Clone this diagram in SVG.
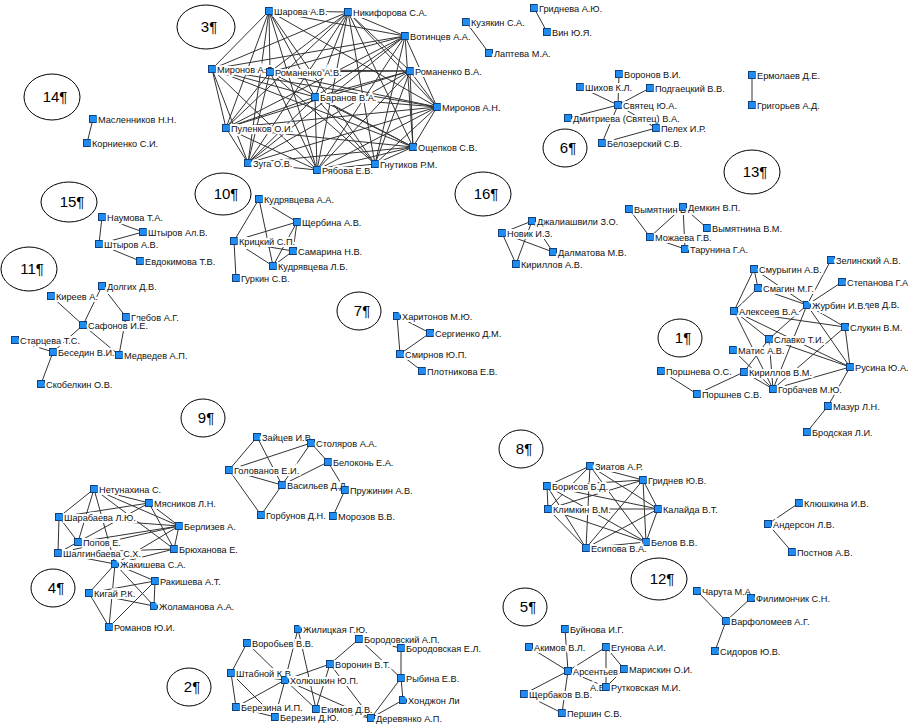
<svg xmlns="http://www.w3.org/2000/svg" width="908" height="727" viewBox="0 0 908 727">
<style>
.e{stroke:#333;stroke-width:1;fill:none}
.n rect{fill:#1e8cf0;stroke:#123f7a;stroke-width:1}
.n text,.h{font-family:"Liberation Sans",Arial,sans-serif;font-size:9.2px;fill:#111;paint-order:stroke;stroke:#fff;stroke-width:4px;stroke-linejoin:miter}
.c ellipse{fill:#fff;stroke:#000;stroke-width:1}
.c text{font-family:"Liberation Sans",Arial,sans-serif;font-size:15px;fill:#000;text-anchor:middle}
</style>
<rect width="908" height="727" fill="#fff"/>
<g id="clusters" class="c">
<g id="c3"><ellipse cx="206" cy="27" rx="29" ry="22"/><text x="209" y="32">3¶</text></g>
<g id="c14"><ellipse cx="52" cy="97" rx="28" ry="23"/><text x="55" y="102">14¶</text></g>
<g id="c6"><ellipse cx="565" cy="148" rx="22" ry="19"/><text x="568" y="153">6¶</text></g>
<g id="c13"><ellipse cx="752" cy="172" rx="28" ry="22"/><text x="755" y="177">13¶</text></g>
<g id="c15"><ellipse cx="69" cy="202" rx="28" ry="20"/><text x="72" y="207">15¶</text></g>
<g id="c10"><ellipse cx="223" cy="194" rx="28" ry="21"/><text x="226" y="199">10¶</text></g>
<g id="c11"><ellipse cx="29" cy="269" rx="28" ry="22"/><text x="32" y="274">11¶</text></g>
<g id="c16"><ellipse cx="483" cy="194" rx="28" ry="22"/><text x="486" y="199">16¶</text></g>
<g id="c7"><ellipse cx="359" cy="311" rx="22" ry="19"/><text x="362" y="316">7¶</text></g>
<g id="c1"><ellipse cx="680" cy="338" rx="22" ry="19"/><text x="683" y="343">1¶</text></g>
<g id="c9"><ellipse cx="203" cy="418" rx="22" ry="19"/><text x="206" y="423">9¶</text></g>
<g id="c8"><ellipse cx="521" cy="449" rx="22" ry="19"/><text x="524" y="454">8¶</text></g>
<g id="c12"><ellipse cx="659" cy="579" rx="28" ry="21"/><text x="662" y="584">12¶</text></g>
<g id="c4"><ellipse cx="53" cy="588" rx="22" ry="19"/><text x="56" y="593">4¶</text></g>
<g id="c5"><ellipse cx="525" cy="607" rx="22" ry="19"/><text x="528" y="612">5¶</text></g>
<g id="c2"><ellipse cx="189" cy="687" rx="22" ry="19"/><text x="192" y="692">2¶</text></g>
</g>
<g id="connectors" class="e">
<path d="M269 11L348 12M269 11L405 36M269 11L212 69M269 11L270 72M269 11L315 97M269 11L437 107M269 11L226 128M269 11L248 163M269 11L317 170M269 11L375 164
M348 12L405 36M348 12L212 69M348 12L270 72M348 12L410 71M348 12L315 97M348 12L437 107M348 12L226 128M348 12L413 147M348 12L248 163M348 12L317 170M348 12L375 164
M405 36L212 69M405 36L270 72M405 36L315 97M405 36L437 107M405 36L226 128M405 36L413 147M405 36L248 163M405 36L317 170M405 36L375 164
M212 69L410 71M212 69L315 97M212 69L437 107M212 69L226 128M212 69L248 163M212 69L317 170M212 69L413 147
M270 72L410 71M270 72L437 107M270 72L226 128M270 72L413 147M270 72L248 163M270 72L317 170M270 72L375 164
M410 71L315 97M410 71L437 107M410 71L226 128M410 71L413 147M410 71L248 163M410 71L317 170M410 71L375 164
M315 97L437 107M315 97L226 128M315 97L413 147M315 97L248 163M315 97L317 170M315 97L375 164
M437 107L226 128M437 107L413 147M437 107L248 163M437 107L317 170M437 107L375 164
M226 128L413 147M226 128L248 163M226 128L317 170M413 147L248 163M413 147L317 170M413 147L375 164M248 163L317 170M317 170L375 164"/>
<path d="M93 119L87 143M466 22L489 53M534 8L547 32M752 75L752 105
M618 105L619 74M618 105L580 87M618 105L650 88M618 105L568 118M618 105L656 128M618 105L602 143M656 128L602 143"/>
<path d="M102 217L99 244M102 217L143 232M99 244L143 232M99 244L140 261
M259 199L297 222M259 199L234 241M259 199L273 266M234 241L297 222M234 241L293 251M234 241L273 266M234 241L236 278M297 222L293 251M297 222L273 266M293 251L273 266
M51 296L83 325M102 286L83 325M102 286L126 317M126 317L119 355M83 325L53 352M83 325L119 355M15 340L53 352M53 352L41 384
M502 233L516 264M502 233L553 252M502 233L532 221M516 264L532 221M532 221L553 252
M397 316L430 333M397 316L400 354M400 354L430 333M400 354L422 371
M629 209L650 237M683 207L650 237M683 207L685 249M683 207L707 228M650 237L685 249"/>
<path d="M831 260L807 305M842 282L807 305M754 269L758 288M754 269L734 311M754 269L807 305M758 288L807 305M758 288L734 311M734 311L845 327M734 311L769 339M734 311L773 389M734 311L850 367M807 305L845 327M807 305L850 367M807 305L769 339M807 305L773 389M845 327L850 367M773 389L845 327M769 339L850 367M769 339L773 389M769 339L744 372M744 372L773 389M744 372L697 394M661 371L697 394M773 389L850 367M850 367L828 406M828 406L807 432M733 350L773 389"/>
<path d="M257 437L229 470M257 437L282 485M229 470L311 443M229 470L282 485M229 470L261 515M311 443L328 462M311 443L282 485M328 462L282 485M328 462L345 490M282 485L261 515M345 490L333 516"/>
<path d="M94 489L59 517M94 489L78 542M94 489L149 503M94 489L179 526M94 489L174 549M94 489L115 564M59 517L78 542M59 517L58 553M59 517L179 526M59 517L149 503M149 503L179 526M149 503L174 549M149 503L58 553M179 526L174 549M179 526L78 542M179 526L58 553M179 526L115 564M174 549L58 553M174 549L115 564M58 553L115 564M115 564L89 593M115 564L155 581M115 564L154 606M115 564L109 627M89 593L154 606M89 593L109 627M155 581L154 606M155 581L109 627M155 581L89 593"/>
<path d="M590 466L643 480M590 466L547 486M590 466L548 509M590 466L658 509M590 466L646 542M590 466L586 548M643 480L547 486M643 480L548 509M643 480L658 509M643 480L646 542M643 480L586 548M547 486L548 509M547 486L658 509M547 486L646 542M547 486L586 548M548 509L658 509M548 509L646 542M548 509L586 548M658 509L646 542M658 509L586 548M646 542L586 548"/>
<path d="M768 524L799 503M768 524L792 552M697 591L726 621M751 598L726 621M726 621L715 651
M565 629L568 671M529 647L568 671M568 671L524 694M568 671L562 713M568 671L606 687M606 647L568 671M606 647L624 669M606 647L606 687M624 669L606 687M524 694L562 713"/>
<path d="M247 643L231 673M247 643L285 680M231 673L285 680M231 673L236 707M231 673L275 717M298 629L285 680M298 629L316 709M330 664L285 680M330 664L316 709M330 664L359 639M330 664L371 718M359 639L401 648M359 639L401 678M401 648L401 678M401 678L403 700M401 678L371 718M403 700L371 718M285 680L236 707M285 680L275 717M285 680L316 709M285 680L371 718M236 707L275 717M316 709L371 718"/>
</g>
<g id="nodes" class="n">
<g id="n-sharova"><rect x="265.5" y="7.5" width="7" height="7"/><text x="274" y="14.5">Шарова А.В.</text></g>
<g id="n-nikiforova"><rect x="344.5" y="8.5" width="7" height="7"/><text x="353" y="15.5">Никифорова С.А.</text></g>
<g id="n-votintsev"><rect x="401.5" y="32.5" width="7" height="7"/><text x="410" y="39.5">Вотинцев А.А.</text></g>
<g id="n-mironov-al"><rect x="208.5" y="65.5" width="7" height="7"/><text x="217" y="72.5">Миронов А.Л.</text></g>
<g id="n-romanenko-av"><rect x="266.5" y="68.5" width="7" height="7"/><text x="275" y="75.5">Романенко А.В.</text></g>
<g id="n-romanenko-va"><rect x="406.5" y="67.5" width="7" height="7"/><text x="415" y="74.5">Романенко В.А.</text></g>
<g id="n-baranov"><rect x="311.5" y="93.5" width="7" height="7"/><text x="320" y="100.5">Баранов В.А.</text></g>
<g id="n-mironov-an"><rect x="433.5" y="103.5" width="7" height="7"/><text x="442" y="110.5">Миронов А.Н.</text></g>
<g id="n-pulenkov"><rect x="222.5" y="124.5" width="7" height="7"/><text x="231" y="131.5">Пуленков О.И.</text></g>
<g id="n-oshchepkov"><rect x="409.5" y="143.5" width="7" height="7"/><text x="418" y="150.5">Ощепков С.В.</text></g>
<g id="n-zuga"><rect x="244.5" y="159.5" width="7" height="7"/><text x="253" y="166.5">Зуга О.В.</text></g>
<g id="n-ryabova"><rect x="313.5" y="166.5" width="7" height="7"/><text x="322" y="173.5">Рябова Е.В.</text></g>
<g id="n-gnutikov"><rect x="371.5" y="160.5" width="7" height="7"/><text x="380" y="167.5">Гнутиков Р.М.</text></g>
<g id="n-maslennikov"><rect x="89.5" y="115.5" width="7" height="7"/><text x="98" y="122.5">Масленников Н.Н.</text></g>
<g id="n-kornienko"><rect x="83.5" y="139.5" width="7" height="7"/><text x="92" y="146.5">Корниенко С.И.</text></g>
<g id="n-kuzyakin"><rect x="462.5" y="18.5" width="7" height="7"/><text x="471" y="25.5">Кузякин С.А.</text></g>
<g id="n-lapteva"><rect x="485.5" y="49.5" width="7" height="7"/><text x="494" y="56.5">Лаптева М.А.</text></g>
<g id="n-gridneva"><rect x="530.5" y="4.5" width="7" height="7"/><text x="539" y="11.5">Гриднева А.Ю.</text></g>
<g id="n-vin"><rect x="543.5" y="28.5" width="7" height="7"/><text x="552" y="35.5">Вин Ю.Я.</text></g>
<g id="n-voronov"><rect x="615.5" y="70.5" width="7" height="7"/><text x="624" y="77.5">Воронов В.И.</text></g>
<g id="n-shikhov"><rect x="576.5" y="83.5" width="7" height="7"/><text x="585" y="90.5">Шихов К.Л.</text></g>
<g id="n-podgaetsky"><rect x="646.5" y="84.5" width="7" height="7"/><text x="655" y="91.5">Подгаецкий В.В.</text></g>
<g id="n-svyatets"><rect x="614.5" y="101.5" width="7" height="7"/><text x="623" y="108.5">Святец Ю.А.</text></g>
<g id="n-dmitrieva"><rect x="564.5" y="114.5" width="7" height="7"/><text x="573" y="121.5">Дмитриева (Святец) В.А.</text></g>
<g id="n-pelekh"><rect x="652.5" y="124.5" width="7" height="7"/><text x="661" y="131.5">Пелех И.Р.</text></g>
<g id="n-belozersky"><rect x="598.5" y="139.5" width="7" height="7"/><text x="607" y="146.5">Белозерский С.В.</text></g>
<g id="n-ermolaev"><rect x="748.5" y="71.5" width="7" height="7"/><text x="757" y="78.5">Ермолаев Д.Е.</text></g>
<g id="n-grigoriev"><rect x="748.5" y="101.5" width="7" height="7"/><text x="757" y="108.5">Григорьев А.Д.</text></g>
<g id="n-naumova"><rect x="98.5" y="213.5" width="7" height="7"/><text x="107" y="220.5">Наумова Т.А.</text></g>
<g id="n-shtyrov-al"><rect x="139.5" y="228.5" width="7" height="7"/><text x="148" y="235.5">Штыров Ал.В.</text></g>
<g id="n-shtyrov-av"><rect x="95.5" y="240.5" width="7" height="7"/><text x="104" y="247.5">Штыров А.В.</text></g>
<g id="n-evdokimova"><rect x="136.5" y="257.5" width="7" height="7"/><text x="145" y="264.5">Евдокимова Т.В.</text></g>
<g id="n-kudryavtseva-aa"><rect x="255.5" y="195.5" width="7" height="7"/><text x="264" y="202.5">Кудрявцева А.А.</text></g>
<g id="n-shcherbina"><rect x="293.5" y="218.5" width="7" height="7"/><text x="302" y="225.5">Щербина А.В.</text></g>
<g id="n-kritsky"><rect x="230.5" y="237.5" width="7" height="7"/><text x="239" y="244.5">Крицкий С.П.</text></g>
<g id="n-samarina"><rect x="289.5" y="247.5" width="7" height="7"/><text x="298" y="254.5">Самарина Н.В.</text></g>
<g id="n-kudryavtseva-lb"><rect x="269.5" y="262.5" width="7" height="7"/><text x="278" y="269.5">Кудрявцева Л.Б.</text></g>
<g id="n-gurkin"><rect x="232.5" y="274.5" width="7" height="7"/><text x="241" y="281.5">Гуркин С.В.</text></g>
<g id="n-dzhaliashvili"><rect x="528.5" y="217.5" width="7" height="7"/><text x="537" y="224.5">Джалиашвили З.О.</text></g>
<g id="n-novik"><rect x="498.5" y="229.5" width="7" height="7"/><text x="507" y="236.5">Новик И.З.</text></g>
<g id="n-dalmatova"><rect x="549.5" y="248.5" width="7" height="7"/><text x="558" y="255.5">Далматова М.В.</text></g>
<g id="n-kirillov-av"><rect x="512.5" y="260.5" width="7" height="7"/><text x="521" y="267.5">Кириллов А.В.</text></g>
<g id="n-vymyatnin"><rect x="625.5" y="205.5" width="7" height="7"/><text x="634" y="212.5">Вымятнин В.</text></g>
<g id="n-demkin"><rect x="679.5" y="203.5" width="7" height="7"/><text x="688" y="210.5">Демкин В.П.</text></g>
<g id="n-vymyatnina"><rect x="703.5" y="224.5" width="7" height="7"/><text x="712" y="231.5">Вымятнина В.М.</text></g>
<g id="n-mozhaeva"><rect x="646.5" y="233.5" width="7" height="7"/><text x="655" y="240.5">Можаева Г.В.</text></g>
<g id="n-tarunina"><rect x="681.5" y="245.5" width="7" height="7"/><text x="690" y="252.5">Тарунина Г.А.</text></g>
<g id="n-dolgikh"><rect x="98.5" y="282.5" width="7" height="7"/><text x="107" y="289.5">Долгих Д.В.</text></g>
<g id="n-kireev"><rect x="47.5" y="292.5" width="7" height="7"/><text x="56" y="299.5">Киреев А.</text></g>
<g id="n-glebov"><rect x="122.5" y="313.5" width="7" height="7"/><text x="131" y="320.5">Глебов А.Г.</text></g>
<g id="n-safonov"><rect x="79.5" y="321.5" width="7" height="7"/><text x="88" y="328.5">Сафонов И.Е.</text></g>
<g id="n-startseva"><rect x="11.5" y="336.5" width="7" height="7"/><text x="20" y="343.5">Старцева Т.С.</text></g>
<g id="n-besedin"><rect x="49.5" y="348.5" width="7" height="7"/><text x="58" y="355.5">Беседин В.И.</text></g>
<g id="n-medvedev"><rect x="115.5" y="351.5" width="7" height="7"/><text x="124" y="358.5">Медведев А.П.</text></g>
<g id="n-skobelkin"><rect x="37.5" y="380.5" width="7" height="7"/><text x="46" y="387.5">Скобелкин О.В.</text></g>
<g id="n-kharitonov"><rect x="393.5" y="312.5" width="7" height="7"/><text x="402" y="319.5">Харитонов М.Ю.</text></g>
<g id="n-sergienko"><rect x="426.5" y="329.5" width="7" height="7"/><text x="435" y="336.5">Сергиенко Д.М.</text></g>
<g id="n-smirnov"><rect x="396.5" y="350.5" width="7" height="7"/><text x="405" y="357.5">Смирнов Ю.П.</text></g>
<g id="n-plotnikova"><rect x="418.5" y="367.5" width="7" height="7"/><text x="427" y="374.5">Плотникова Е.В.</text></g>
<g id="n-zelinsky"><rect x="827.5" y="256.5" width="7" height="7"/><text x="836" y="263.5">Зелинский А.В.</text></g>
<g id="n-smurygin"><rect x="750.5" y="265.5" width="7" height="7"/><text x="759" y="272.5">Смурыгин А.В.</text></g>
<g id="n-stepanova"><rect x="838.5" y="278.5" width="7" height="7"/><text x="847" y="285.5">Степанова Г.А</text></g>
<g id="n-smagin"><rect x="754.5" y="284.5" width="7" height="7"/><text x="763" y="291.5">Смагин М.Г.</text></g>
<text class="h" x="864" y="308">дев Д.В.</text>
<g id="n-zhurbin"><rect x="803.5" y="301.5" width="7" height="7"/><text x="812" y="308.5">Журбин И.В.</text></g>
<g id="n-alekseev"><rect x="730.5" y="307.5" width="7" height="7"/><text x="739" y="314.5">Алексеев В.А.</text></g>
<g id="n-slukin"><rect x="841.5" y="323.5" width="7" height="7"/><text x="850" y="330.5">Слукин В.М.</text></g>
<g id="n-slavko"><rect x="765.5" y="335.5" width="7" height="7"/><text x="774" y="342.5">Славко Т.И.</text></g>
<g id="n-matis"><rect x="729.5" y="346.5" width="7" height="7"/><text x="738" y="353.5">Матис А.В.</text></g>
<g id="n-rusina"><rect x="846.5" y="363.5" width="7" height="7"/><text x="855" y="370.5">Русина Ю.А.</text></g>
<g id="n-porshneva"><rect x="657.5" y="367.5" width="7" height="7"/><text x="666" y="374.5">Поршнева О.С.</text></g>
<g id="n-kirillov-vm"><rect x="740.5" y="368.5" width="7" height="7"/><text x="749" y="375.5">Кириллов В.М.</text></g>
<g id="n-gorbachev"><rect x="769.5" y="385.5" width="7" height="7"/><text x="778" y="392.5">Горбачев М.Ю.</text></g>
<g id="n-porshnev"><rect x="693.5" y="390.5" width="7" height="7"/><text x="702" y="397.5">Поршнев С.В.</text></g>
<g id="n-mazur"><rect x="824.5" y="402.5" width="7" height="7"/><text x="833" y="409.5">Мазур Л.Н.</text></g>
<g id="n-brodskaya"><rect x="803.5" y="428.5" width="7" height="7"/><text x="812" y="435.5">Бродская Л.И.</text></g>
<g id="n-zaitsev"><rect x="253.5" y="433.5" width="7" height="7"/><text x="262" y="440.5">Зайцев И.В.</text></g>
<g id="n-stolyarov"><rect x="307.5" y="439.5" width="7" height="7"/><text x="316" y="446.5">Столяров А.А.</text></g>
<g id="n-belokon"><rect x="324.5" y="458.5" width="7" height="7"/><text x="333" y="465.5">Белоконь Е.А.</text></g>
<g id="n-golovanov"><rect x="225.5" y="466.5" width="7" height="7"/><text x="234" y="473.5">Голованов Е.И.</text></g>
<g id="n-vasiliev"><rect x="278.5" y="481.5" width="7" height="7"/><text x="287" y="488.5">Васильев Д.Д.</text></g>
<g id="n-pruzhinin"><rect x="341.5" y="486.5" width="7" height="7"/><text x="350" y="493.5">Пружинин А.В.</text></g>
<g id="n-gorbunov"><rect x="257.5" y="511.5" width="7" height="7"/><text x="266" y="518.5">Горбунов Д.Н.</text></g>
<g id="n-morozov"><rect x="329.5" y="512.5" width="7" height="7"/><text x="338" y="519.5">Морозов В.В.</text></g>
<g id="n-netunakhina"><rect x="90.5" y="485.5" width="7" height="7"/><text x="99" y="492.5">Нетунахина С.</text></g>
<g id="n-myasnikov"><rect x="145.5" y="499.5" width="7" height="7"/><text x="154" y="506.5">Мясников Л.Н.</text></g>
<g id="n-sharabaeva"><rect x="55.5" y="513.5" width="7" height="7"/><text x="64" y="520.5">Шарабаева Л.Ю.</text></g>
<g id="n-berlizev"><rect x="175.5" y="522.5" width="7" height="7"/><text x="184" y="529.5">Берлизев А.</text></g>
<g id="n-popov"><rect x="74.5" y="538.5" width="7" height="7"/><text x="83" y="545.5">Попов Е.</text></g>
<g id="n-bryukhanova"><rect x="170.5" y="545.5" width="7" height="7"/><text x="179" y="552.5">Брюханова Е.</text></g>
<g id="n-shalginbaeva"><rect x="54.5" y="549.5" width="7" height="7"/><text x="63" y="556.5">Шалгинбаева С.Х.</text></g>
<g id="n-zhakisheva"><rect x="111.5" y="560.5" width="7" height="7"/><text x="120" y="567.5">Жакишева С.А.</text></g>
<g id="n-rakisheva"><rect x="151.5" y="577.5" width="7" height="7"/><text x="160" y="584.5">Ракишева А.Т.</text></g>
<g id="n-kigai"><rect x="85.5" y="589.5" width="7" height="7"/><text x="94" y="596.5">Кигай Р.К.</text></g>
<g id="n-zholamanova"><rect x="150.5" y="602.5" width="7" height="7"/><text x="159" y="609.5">Жоламанова А.А.</text></g>
<g id="n-romanov"><rect x="105.5" y="623.5" width="7" height="7"/><text x="114" y="630.5">Романов Ю.И.</text></g>
<g id="n-ziatov"><rect x="586.5" y="462.5" width="7" height="7"/><text x="595" y="469.5">Зиатов А.Р.</text></g>
<g id="n-gridnev"><rect x="639.5" y="476.5" width="7" height="7"/><text x="648" y="483.5">Гриднев Ю.В.</text></g>
<g id="n-borisov"><rect x="543.5" y="482.5" width="7" height="7"/><text x="552" y="489.5">Борисов Б.Д.</text></g>
<g id="n-klimkin"><rect x="544.5" y="505.5" width="7" height="7"/><text x="553" y="512.5">Климкин В.М.</text></g>
<g id="n-kalaida"><rect x="654.5" y="505.5" width="7" height="7"/><text x="663" y="512.5">Калайда В.Т.</text></g>
<g id="n-belov"><rect x="642.5" y="538.5" width="7" height="7"/><text x="651" y="545.5">Белов В.В.</text></g>
<g id="n-esipova"><rect x="582.5" y="544.5" width="7" height="7"/><text x="591" y="551.5">Есипова В.А.</text></g>
<g id="n-klyushkina"><rect x="795.5" y="499.5" width="7" height="7"/><text x="804" y="506.5">Клюшкина И.В.</text></g>
<g id="n-anderson"><rect x="764.5" y="520.5" width="7" height="7"/><text x="773" y="527.5">Андерсон Л.В.</text></g>
<g id="n-postnov"><rect x="788.5" y="548.5" width="7" height="7"/><text x="797" y="555.5">Постнов А.В.</text></g>
<g id="n-charuta"><rect x="693.5" y="587.5" width="7" height="7"/><text x="702" y="594.5">Чарута М.А.</text></g>
<g id="n-filimonchik"><rect x="747.5" y="594.5" width="7" height="7"/><text x="756" y="601.5">Филимончик С.Н.</text></g>
<g id="n-varfolomeev"><rect x="722.5" y="617.5" width="7" height="7"/><text x="731" y="624.5">Варфоломеев А.Г.</text></g>
<g id="n-sidorov"><rect x="711.5" y="647.5" width="7" height="7"/><text x="720" y="654.5">Сидоров Ю.В.</text></g>
<g id="n-buinova"><rect x="561.5" y="625.5" width="7" height="7"/><text x="570" y="632.5">Буйнова И.Г.</text></g>
<g id="n-akimov"><rect x="525.5" y="643.5" width="7" height="7"/><text x="534" y="650.5">Акимов В.Л.</text></g>
<g id="n-egunova"><rect x="602.5" y="643.5" width="7" height="7"/><text x="611" y="650.5">Егунова А.И.</text></g>
<text class="h" x="590" y="690.5">А.В.</text>
<g id="n-arsentiev"><rect x="564.5" y="667.5" width="7" height="7"/><text x="573" y="674.5">Арсентьев</text></g>
<g id="n-mariskin"><rect x="620.5" y="665.5" width="7" height="7"/><text x="629" y="672.5">Марискин О.И.</text></g>
<g id="n-rutkovskaya"><rect x="602.5" y="683.5" width="7" height="7"/><text x="611" y="690.5">Рутковская М.И.</text></g>
<g id="n-shcherbakov"><rect x="520.5" y="690.5" width="7" height="7"/><text x="529" y="697.5">Щербаков В.В.</text></g>
<g id="n-pershin"><rect x="558.5" y="709.5" width="7" height="7"/><text x="567" y="716.5">Першин С.В.</text></g>
<g id="n-zhilitskaya"><rect x="294.5" y="625.5" width="7" height="7"/><text x="303" y="632.5">Жилицкая Г.Ю.</text></g>
<g id="n-vorobiev"><rect x="243.5" y="639.5" width="7" height="7"/><text x="252" y="646.5">Воробьев В.В.</text></g>
<g id="n-borodovsky"><rect x="355.5" y="635.5" width="7" height="7"/><text x="364" y="642.5">Бородовский А.П.</text></g>
<g id="n-borodovskaya"><rect x="397.5" y="644.5" width="7" height="7"/><text x="406" y="651.5">Бородовская Е.Л.</text></g>
<g id="n-voronin"><rect x="326.5" y="660.5" width="7" height="7"/><text x="335" y="667.5">Воронин В.Т.</text></g>
<g id="n-shtabnoi"><rect x="227.5" y="669.5" width="7" height="7"/><text x="236" y="676.5">Штабной К.В.</text></g>
<g id="n-kholyushkin"><rect x="281.5" y="676.5" width="7" height="7"/><text x="290" y="683.5">Холюшкин Ю.П.</text></g>
<g id="n-rybina"><rect x="397.5" y="674.5" width="7" height="7"/><text x="406" y="681.5">Рыбина Е.В.</text></g>
<g id="n-khondzhon"><rect x="399.5" y="696.5" width="7" height="7"/><text x="408" y="703.5">Хонджон Ли</text></g>
<g id="n-berezina"><rect x="232.5" y="703.5" width="7" height="7"/><text x="241" y="710.5">Березина И.П.</text></g>
<g id="n-ekimov"><rect x="312.5" y="705.5" width="7" height="7"/><text x="321" y="712.5">Екимов Д.В.</text></g>
<g id="n-berezin"><rect x="271.5" y="713.5" width="7" height="7"/><text x="280" y="720.5">Березин Д.Ю.</text></g>
<g id="n-derevyanko"><rect x="367.5" y="714.5" width="7" height="7"/><text x="376" y="721.5">Деревянко А.П.</text></g>
</g>
</svg>
